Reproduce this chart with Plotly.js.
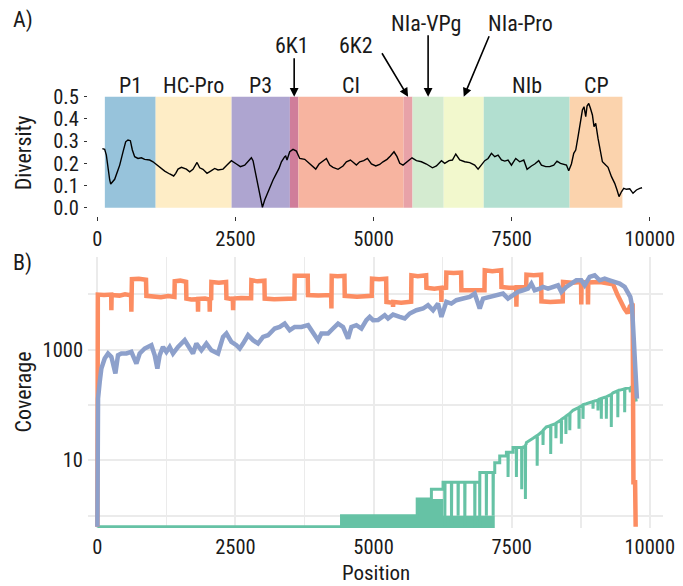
<!DOCTYPE html>
<html>
<head>
<meta charset="utf-8">
<script src="https://cdn.plot.ly/plotly-3.0.1.min.js"></script>
<style>html,body{margin:0;padding:0;background:#fff;}#chart{width:683px;height:586px;}</style>
</head>
<body>
<div id="chart"></div>
<script>
// ---------------- DATA ----------------
const genes      = ["P1","HC-Pro","P3","6K1","CI","6K2","NIa-VPg","NIa-Pro","NIb","CP"];
const geneStart  = [135, 1055, 2430, 3485, 3640, 5545, 5705, 6270, 6995, 8550];
const geneEnd    = [1055, 2430, 3485, 3640, 5545, 5705, 6270, 6995, 8550, 9505];

const divPos = [90,132,162,192,223,241,283,313,373,404,464,512,554,597,633,675,735,797,856,947,1007,1056,1128,1219,1309,1381,1418,1460,1521,1611,1671,1731,1804,1852,1912,1985,2064,2124,2184,2275,2347,2426,2517,2589,2667,2727,2788,2818,2866,2908,2951,2988,3029,3078,3120,3180,3241,3288,3332,3361,3391,3409,3433,3482,3542,3603,3663,3754,3844,3904,3953,4013,4085,4146,4206,4266,4357,4447,4508,4581,4641,4689,4749,4822,4889,4961,5039,5111,5171,5244,5305,5370,5425,5474,5533,5595,5642,5696,5776,5866,5957,6066,6138,6229,6288,6366,6428,6488,6560,6650,6741,6831,6892,6953,7013,7073,7134,7194,7254,7315,7375,7435,7496,7574,7646,7719,7779,7858,7918,7990,8039,8117,8189,8262,8321,8383,8443,8492,8533,8582,8624,8660,8702,8745,8781,8810,8841,8865,8896,8926,8962,8991,9022,9064,9107,9143,9203,9245,9307,9366,9408,9444,9488,9529,9578,9638,9697,9759,9819,9861];
const divVal = [0.266,0.263,0.237,0.177,0.125,0.107,0.117,0.128,0.170,0.192,0.252,0.297,0.305,0.302,0.260,0.230,0.222,0.225,0.218,0.215,0.207,0.197,0.182,0.165,0.152,0.143,0.155,0.174,0.182,0.174,0.162,0.173,0.204,0.180,0.173,0.155,0.167,0.177,0.170,0.174,0.192,0.212,0.197,0.185,0.192,0.207,0.225,0.212,0.155,0.102,0.050,0.002,0.035,0.065,0.087,0.125,0.155,0.177,0.207,0.222,0.230,0.233,0.215,0.252,0.263,0.255,0.222,0.218,0.200,0.188,0.174,0.197,0.212,0.222,0.192,0.182,0.173,0.188,0.207,0.215,0.203,0.192,0.207,0.212,0.222,0.197,0.188,0.195,0.207,0.218,0.233,0.252,0.230,0.200,0.192,0.203,0.215,0.225,0.212,0.207,0.197,0.180,0.188,0.212,0.200,0.212,0.215,0.242,0.215,0.207,0.203,0.192,0.174,0.192,0.212,0.222,0.245,0.230,0.237,0.215,0.210,0.215,0.192,0.222,0.207,0.215,0.173,0.188,0.197,0.212,0.192,0.185,0.185,0.192,0.210,0.200,0.197,0.192,0.167,0.197,0.245,0.260,0.320,0.380,0.440,0.455,0.410,0.458,0.470,0.448,0.418,0.365,0.380,0.312,0.252,0.207,0.192,0.182,0.140,0.110,0.080,0.050,0.072,0.087,0.083,0.085,0.065,0.080,0.087,0.090];

const orangePos = [0,8,120,250,253,258,400,500,610,615,620,625,750,880,887,1000,1150,1280,1395,1400,1500,1606,1611,1700,1818,1822,1826,1950,2030,2034,2038,2060,2064,2200,2330,2336,2452,2457,2462,2600,2783,2788,2900,3024,3029,3200,3400,3567,3572,3700,3808,3813,4000,4232,4237,4242,4350,4473,4478,4700,4967,4972,5100,5228,5233,5348,5353,5358,5500,5680,5685,5800,5952,5957,6100,6223,6228,6233,6313,6318,6450,6585,6590,6800,7008,7013,7150,7310,7315,7450,7581,7586,7591,7763,7768,7900,8034,8039,8200,8425,8430,8600,8756,8761,8766,8877,8882,8887,9100,9336,9420,9480,9540,9600,9640,9690,9705,9735,9745];
const orangeCov = [0,9800,9600,9800,5100,9600,9400,9900,9500,4800,9500,18600,19000,18200,9300,9000,8800,9200,8900,17000,17500,16600,8300,8000,8100,4800,8200,8300,8000,4800,8100,8300,16600,16000,16600,8500,8100,5100,8300,8500,8400,17800,17000,17500,8300,8100,8400,8300,21400,21000,21400,9600,9400,9600,5500,21400,21000,21400,9300,9000,9300,19000,18500,19000,7200,7000,5900,7200,7000,7300,21900,21000,21900,13000,12500,13000,7200,12800,13000,24500,24000,24500,11700,11500,11700,26900,26000,26900,13500,13000,13000,5900,13300,13500,22400,22000,22400,7400,7200,7400,16600,16000,16600,6500,16200,16600,6500,16200,16600,15000,9500,7000,5500,4500,6000,6800,4,4,0];

const bluePos = [0,5,12,42,72,132,193,253,326,373,434,525,615,706,766,856,978,1038,1086,1128,1188,1249,1309,1369,1460,1581,1641,1731,1792,1883,1973,2064,2184,2275,2336,2426,2517,2577,2637,2727,2818,2908,2999,3089,3210,3301,3391,3482,3572,3693,3814,3935,3995,4056,4176,4266,4357,4447,4538,4599,4689,4780,4870,4930,4991,5081,5202,5262,5353,5474,5564,5655,5775,5896,5986,6077,6167,6228,6318,6409,6499,6620,6740,6831,6922,6982,7102,7223,7344,7434,7525,7615,7706,7796,7857,7917,8008,8068,8158,8249,8339,8400,8490,8580,8671,8761,8822,8912,9003,9093,9184,9274,9365,9455,9546,9606,9648,9678,9708,9726,9744,9768];
const blueCov = [0,50,130,260,454,689,847,738,369,789,847,847,906,558,847,1042,1197,789,454,789,1114,906,1114,847,1114,1472,1197,847,1282,970,1282,970,847,1690,1945,1371,1197,1042,1282,1811,1472,1282,1690,1811,2393,2559,2944,2228,2559,2559,2748,1811,1472,1945,1945,2393,2944,2559,1581,2559,2748,2393,3381,3881,3381,3400,4160,3630,4285,3881,3630,4467,5117,5495,6310,5117,6761,3881,7244,6761,7762,8318,8913,10230,5495,8318,8913,9550,10230,8318,9550,10970,11750,12590,15490,11750,12590,13490,12590,13490,14450,10970,13490,15490,17780,17780,14450,20420,21880,17780,19050,17780,16600,15490,13490,10970,8913,6310,2080,789,398,130];

const greenPos = [0,4420,4420,5790,5790,6047,6047,6258,6258,6288,6290,6294,6409,6411,6415,6529,6531,6535,6650,6652,6656,6831,6833,6837,6920,6922,6924,7040,7042,7046,7163,7165,7169,7194,7194,7284,7284,7405,7405,7433,7435,7439,7525,7525,7584,7586,7590,7680,7682,7686,7747,7749,7753,7767,7767,7887,7960,7962,7966,8066,8068,8072,8128,8205,8207,8211,8300,8302,8306,8370,8398,8400,8404,8480,8482,8486,8551,8553,8557,8611,8717,8719,8723,8790,8792,8796,8852,8971,8973,8977,9061,9063,9067,9093,9121,9123,9127,9212,9214,9218,9302,9304,9308,9335,9420,9422,9426,9544,9546,9550,9636,9650,9660,9700,9740,9757];
const greenCov = [0,0,1,1,2,2,3,3,4,4,0,4,4,0,4,4,1,4,4,0,4,4,0,4,4,0,6,6,1,6,6,1,6,6,9,9,12,12,14,14,5,14,14,17,17,5,17,17,3,17,18,2,19,20,21,25,28,8,28,34,19,35,40,42,13,43,46,25,47,52,54,20,55,62,30,63,70,35,71,80,90,37,91,100,56,101,105,115,85,116,122,79,123,128,130,56,131,140,56,141,155,40,156,165,180,60,181,195,74,196,205,170,200,190,140,115];

// dense 0/1 flicker regions of the green coverage, drawn as a filled band
const greenBandPos = [4420, 5790, 5790, 6258, 6258, 7194];
const greenBandTop = [1, 1, 2, 2, 1, 1];

// tick labels
const xTickVals = [0, 2500, 5000, 7500, 10000];
const xTickText = ["0", "2500", "5000", "7500", "10000"];
const divTickVals = [0, 0.1, 0.2, 0.3, 0.4, 0.5];
const covTickVals = [10, 1000];
const covTickText = ["10", "1000"];

// ---------------- STYLE ----------------
const geneColors = ["#97C3DB","#FEEDC6","#AEA5D0","#D07D9A","#F7B4A0","#E8A2A8","#D4EBD0","#F2F8CD","#B2DFD0","#FBD3AD"];
const FONT = "'Roboto Condensed', 'Liberation Sans Narrow', 'Arial Narrow', Roboto, sans-serif";
const TXT = "#1a1a1a";
const FS = 22;
const FT = 20.5;
const W = 683, H = 586;
const px = v => v / W;
const py = v => 1 - v / H;

const xRange = [-170, 10240];
const yTopRange = [-0.035, 0.525];
const yBotLogRange = [-0.22, 4.67];
const zeroVal = Math.pow(10, -0.2);
const edgeVal = Math.pow(10, yBotLogRange[0]);
const fix0 = arr => arr.map(v => v === 0 ? zeroVal : v);

const xDom = [px(88), px(663)];
const yTopDom = [py(215.5), py(91.2)];
const yBotDom = [py(527.9), py(257)];

// ---------------- TRACES ----------------
const traces = [];
traces.push({x: divPos, y: divVal, xaxis: 'x', yaxis: 'y', type: 'scatter', mode: 'lines',
  line: {color: '#000', width: 1.4}, hoverinfo: 'skip', showlegend: false});

const bandX = greenBandPos.concat(greenBandPos.slice().reverse());
const bandY = greenBandTop.concat(greenBandPos.map(() => edgeVal));
traces.push({x: bandX, y: bandY, xaxis: 'x2', yaxis: 'y2', type: 'scatter', mode: 'lines',
  fill: 'toself', fillcolor: '#66C2A5', line: {width: 0, color: '#66C2A5'}, hoverinfo: 'skip', showlegend: false});
traces.push({x: greenPos, y: fix0(greenCov), xaxis: 'x2', yaxis: 'y2', type: 'scatter', mode: 'lines',
  line: {color: '#66C2A5', width: 3}, hoverinfo: 'skip', showlegend: false});
traces.push({x: orangePos, y: fix0(orangeCov), xaxis: 'x2', yaxis: 'y2', type: 'scatter', mode: 'lines',
  line: {color: '#FC8D62', width: 4.5}, hoverinfo: 'skip', showlegend: false});
traces.push({x: bluePos, y: fix0(blueCov), xaxis: 'x2', yaxis: 'y2', type: 'scatter', mode: 'lines',
  line: {color: '#8DA0CB', width: 4.5}, hoverinfo: 'skip', showlegend: false});

// ---------------- SHAPES & ANNOTATIONS ----------------
const shapes = genes.map((g, i) => ({type: 'rect', xref: 'x', yref: 'y', x0: geneStart[i], x1: geneEnd[i],
  y0: 0, y1: 0.5, fillcolor: geneColors[i], line: {width: 0}, layer: 'below'}));

const mid = i => (geneStart[i] + geneEnd[i]) / 2;
const labelCfg = {
  "P1": {ys: 11.7}, "HC-Pro": {ys: 11.7}, "P3": {ys: 11.7}, "CI": {ys: 11.7}, "NIb": {ys: 11.7}, "CP": {ys: 11.7},
  "6K1": {ys: 51.7, xs: -2, ax: 0, ay: -40},
  "6K2": {ys: 51.7, xs: -52, ax: -27, ay: -45},
  "NIa-VPg": {ys: 73.4, xs: -2, ax: 0, ay: -63},
  "NIa-Pro": {ys: 73.4, xs: 57, ax: 26, ay: -62}
};
const annotations = [];
genes.forEach((g, i) => {
  const c = labelCfg[g];
  annotations.push({xref: 'x', yref: 'y', x: mid(i), y: 0.5, text: g, showarrow: false,
    xanchor: 'center', yanchor: 'middle', yshift: c.ys, xshift: c.xs || 0,
    font: {family: FONT, size: FS, color: TXT}});
  if (c.ax !== undefined) {
    annotations.push({xref: 'x', yref: 'y', x: mid(i), y: 0.5, text: '', showarrow: true,
      axref: 'pixel', ayref: 'pixel', ax: c.ax, ay: c.ay, arrowhead: 2, arrowsize: 1.1,
      arrowwidth: 1.6, arrowcolor: '#000', standoff: 0});
  }
});
annotations.push({xref: 'paper', yref: 'paper', x: px(11), y: py(20), text: 'A)', showarrow: false,
  xanchor: 'left', yanchor: 'middle', font: {family: FONT, size: FS, color: TXT}});
annotations.push({xref: 'paper', yref: 'paper', x: px(11), y: py(263), text: 'B)', showarrow: false,
  xanchor: 'left', yanchor: 'middle', font: {family: FONT, size: FS, color: TXT}});
annotations.push({xref: 'paper', yref: 'paper', x: px(23), y: (yTopDom[0] + yTopDom[1]) / 2, text: 'Diversity',
  textangle: -90, showarrow: false, xanchor: 'center', yanchor: 'middle', font: {family: FONT, size: FS, color: TXT}});
annotations.push({xref: 'paper', yref: 'paper', x: px(23), y: (yBotDom[0] + yBotDom[1]) / 2, text: 'Coverage',
  textangle: -90, showarrow: false, xanchor: 'center', yanchor: 'middle', font: {family: FONT, size: FS, color: TXT}});
annotations.push({xref: 'paper', yref: 'paper', x: (xDom[0] + xDom[1]) / 2, y: py(585.5), text: 'Position',
  showarrow: false, xanchor: 'center', yanchor: 'bottom', borderpad: 0, font: {family: FONT, size: 21, color: TXT}});

const tickFont = {family: FONT, size: FT, color: TXT};

const layout = {
  width: W, height: H, margin: {l: 0, r: 0, t: 0, b: 0},
  paper_bgcolor: '#fff', plot_bgcolor: 'rgba(0,0,0,0)', showlegend: false,
  font: {family: FONT, color: TXT},
  xaxis: {domain: xDom, range: xRange, anchor: 'y', tickmode: 'array', tickvals: xTickVals, ticktext: xTickText,
    showgrid: false, zeroline: false, showline: false, ticks: 'outside', ticklen: 4, tickwidth: 1,
    tickcolor: '#333', tickfont: tickFont, ticklabelstandoff: 1},
  yaxis: {domain: yTopDom, range: yTopRange, anchor: 'x', tickmode: 'array', tickvals: divTickVals,
    tickformat: '.1f', showgrid: false, zeroline: false, showline: false, ticks: 'outside', ticklen: 3,
    tickwidth: 1, tickcolor: '#333', tickfont: tickFont, ticklabelstandoff: 1},
  xaxis2: {domain: xDom, range: xRange, anchor: 'y2', tickmode: 'array', tickvals: xTickVals, ticktext: xTickText,
    showgrid: true, gridcolor: '#EBEBEB', gridwidth: 2, zeroline: false, showline: false, ticks: '',
    tickfont: tickFont, ticklabelstandoff: 5,
    minor: {tickmode: 'array', tickvals: [1250, 3750, 6250, 8750], showgrid: true, gridcolor: '#EBEBEB', gridwidth: 1.6, ticks: ''}},
  yaxis2: {domain: yBotDom, type: 'log', range: yBotLogRange, anchor: 'x2', tickmode: 'array',
    tickvals: covTickVals, ticktext: covTickText, showgrid: true, gridcolor: '#EBEBEB', gridwidth: 2,
    zeroline: false, showline: false, ticks: '', tickfont: tickFont, ticklabelstandoff: 4,
    minor: {tickmode: 'array', tickvals: [1, 100, 10000], showgrid: true, gridcolor: '#EBEBEB', gridwidth: 1.6, ticks: ''}},
  shapes: shapes,
  annotations: annotations
};

Plotly.newPlot('chart', traces, layout, {staticPlot: true, displayModeBar: false});
</script>
</body>
</html>
